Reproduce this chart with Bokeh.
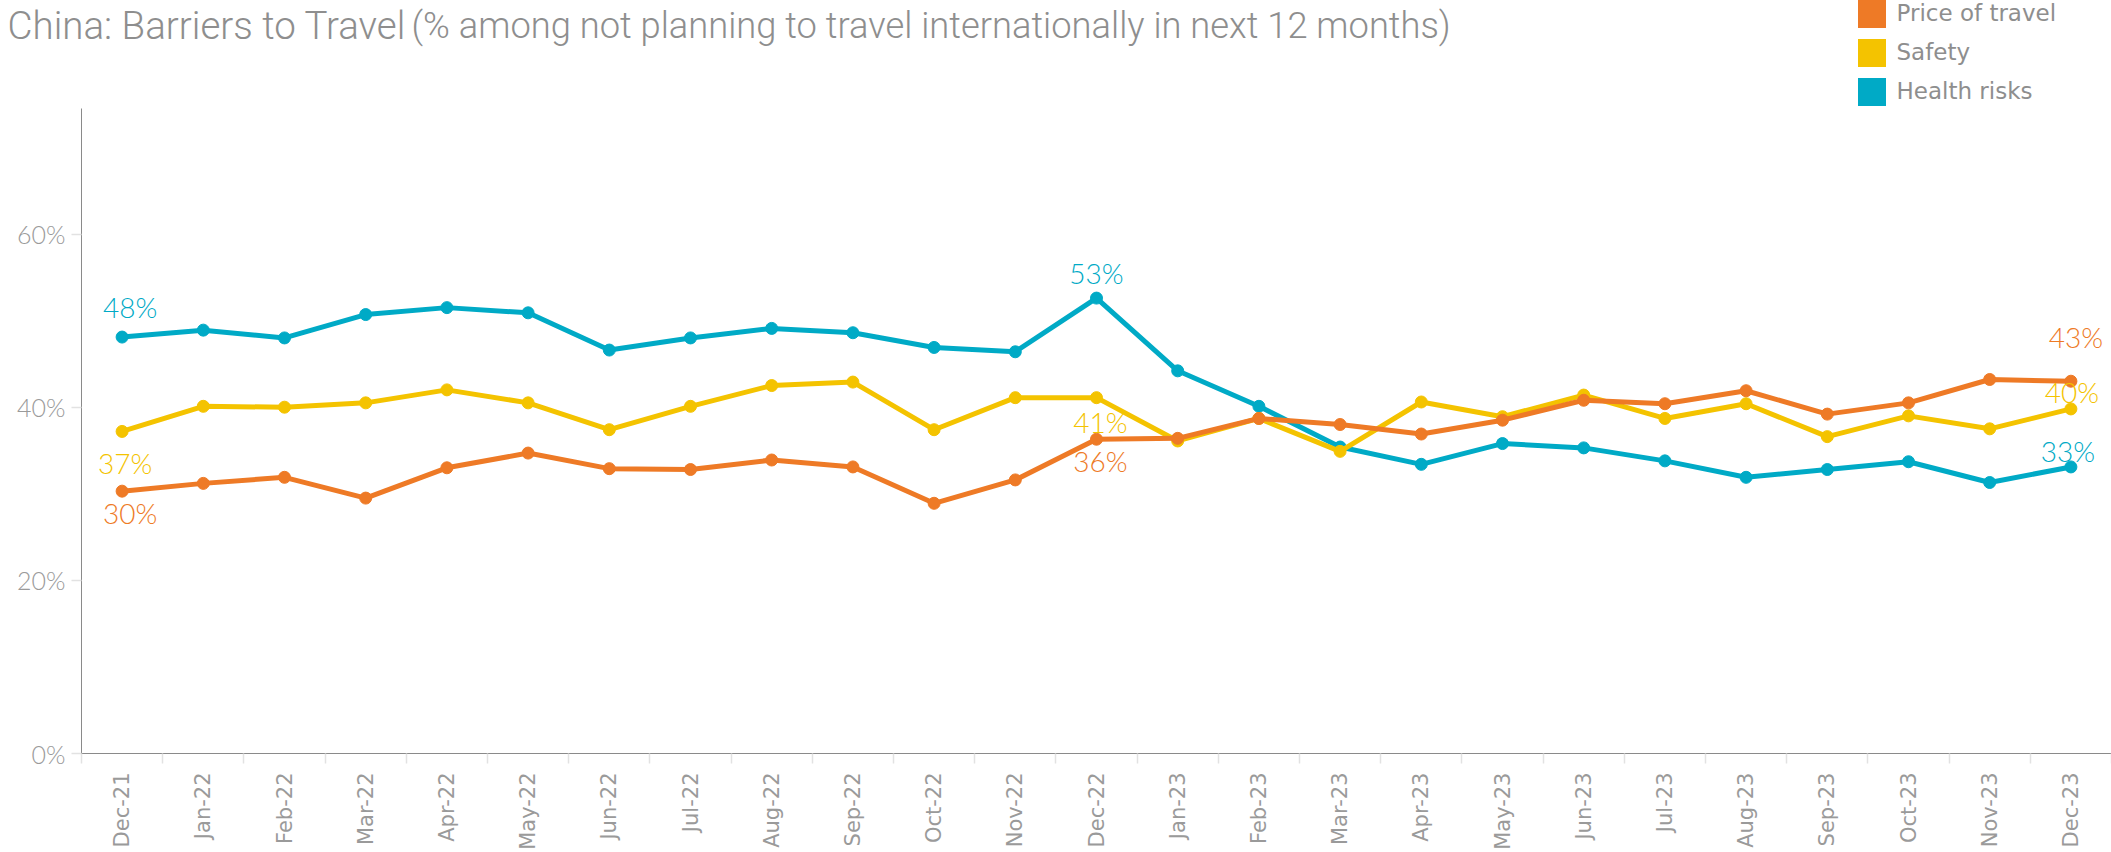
import math
from bokeh.plotting import figure
from bokeh.layouts import column
from bokeh.models import (ColumnDataSource, Range1d, FixedTicker, PrintfTickFormatter,
                          Legend, LegendItem, Label)
from bokeh.core.properties import value
from bokeh.embed import file_html
from bokeh.resources import INLINE

# ---------------- data ----------------
months = ["Dec-21", "Jan-22", "Feb-22", "Mar-22", "Apr-22", "May-22", "Jun-22", "Jul-22",
          "Aug-22", "Sep-22", "Oct-22", "Nov-22", "Dec-22", "Jan-23", "Feb-23", "Mar-23",
          "Apr-23", "May-23", "Jun-23", "Jul-23", "Aug-23", "Sep-23", "Oct-23", "Nov-23", "Dec-23"]
price_of_travel = [30.3, 31.2, 31.9, 29.5, 33.0, 34.7, 32.9, 32.8, 33.9, 33.1, 28.9, 31.6, 36.3,
                   36.4, 38.7, 38.0, 36.9, 38.5, 40.8, 40.4, 41.9, 39.2, 40.5, 43.2, 43.0]
safety = [37.2, 40.1, 40.0, 40.5, 42.0, 40.5, 37.4, 40.1, 42.5, 42.9, 37.4, 41.1, 41.1,
          36.1, 38.7, 34.9, 40.6, 38.9, 41.4, 38.7, 40.4, 36.6, 39.0, 37.5, 39.8]
health_risks = [48.1, 48.9, 48.0, 50.7, 51.5, 50.9, 46.6, 48.0, 49.1, 48.6, 46.9, 46.4, 52.6,
                44.2, 40.1, 35.4, 33.4, 35.8, 35.3, 33.8, 31.9, 32.8, 33.7, 31.3, 33.1]
series_names = ["Price of travel", "Safety", "Health risks"]
y_ticks = [0, 20, 40, 60]
title_text = "China: Barriers to Travel"
subtitle_text = "(% among not planning to travel internationally in next 12 months)"

# ---------------- style ----------------
colors = {"Price of travel": "#EE7A26", "Safety": "#F4C300", "Health risks": "#00AAC6"}
GRAY = "#8e8e8e"
TICK_GRAY = "#9a9a9a"
LIGHT = "#e2e2e2"
TITLE_FONT = "'Roboto Light', Roboto"
NUM_FONT = "'Lato Light', Lato"
W = 2111
HEADER_H = 108
MAIN_H = 852 - HEADER_H

series = {"Price of travel": price_of_travel, "Safety": safety, "Health risks": health_risks}
xs = list(range(len(months)))

# ---------------- header (title + legend) ----------------
header = figure(width=W, height=HEADER_H, output_backend="svg", toolbar_location=None,
                x_range=Range1d(0, W), y_range=Range1d(0, HEADER_H),
                min_border=0, x_axis_type=None, y_axis_type=None)
header.outline_line_color = None
header.grid.visible = False
header.frame_align = False

header.add_layout(Label(x=7, y=83, x_units="screen", y_units="screen",
                        text=title_text, text_font=TITLE_FONT,
                        text_font_size="38.5px", text_color=GRAY, text_baseline="alphabetic"))
header.add_layout(Label(x=411, y=83, x_units="screen", y_units="screen",
                        text=subtitle_text, text_font=TITLE_FONT,
                        text_font_size="36.3px", text_color=GRAY, text_baseline="alphabetic"))

nan = float("nan")
items = []
for name in series_names:
    r = header.quad(left=[nan], right=[nan], top=[nan], bottom=[nan],
                    fill_color=colors[name], line_color=None)
    items.append(LegendItem(label=name, renderers=[r]))
legend = Legend(items=items, location=(1853.5, -0.5), orientation="vertical",
                glyph_width=35, glyph_height=35, label_height=35, spacing=4,
                label_standoff=8, padding=0, margin=0,
                border_line_color=None, background_fill_alpha=0,
                label_text_font="DejaVu Sans", label_text_font_size="23px",
                label_text_color=GRAY, label_text_baseline="middle")
header.add_layout(legend, "center")

# ---------------- main chart ----------------
p = figure(width=W, height=MAIN_H, output_backend="svg", toolbar_location=None,
           x_range=Range1d(-0.5, 24.5), y_range=Range1d(0, 74.5),
           min_border_left=81, min_border_right=0, min_border_top=0, min_border_bottom=92)
p.outline_line_color = None
p.grid.visible = False
p.frame_align = False

# x axis
p.xaxis.ticker = FixedTicker(ticks=xs, minor_ticks=[i - 0.5 for i in range(len(months) + 1)])
p.xaxis.major_label_overrides = {i: m for i, m in enumerate(months)}
p.xaxis.major_label_orientation = math.pi / 2
p.xaxis.major_tick_line_color = None
p.xaxis.major_tick_out = 0
p.xaxis.major_tick_in = 0
p.xaxis.minor_tick_out = 10
p.xaxis.minor_tick_in = 0
p.xaxis.minor_tick_line_color = LIGHT
p.xaxis.minor_tick_line_width = 1.5
p.xaxis.major_label_standoff = 9
p.xaxis.major_label_text_font = "DejaVu Sans"
p.xaxis.major_label_text_font_size = "21px"
p.xaxis.major_label_text_color = TICK_GRAY
p.xaxis.axis_line_color = "#8a8a8a"

# y axis
p.yaxis.ticker = FixedTicker(ticks=y_ticks, minor_ticks=[])
p.yaxis.formatter = PrintfTickFormatter(format="%d%%")
p.yaxis.major_tick_out = 10
p.yaxis.major_tick_in = 0
p.yaxis.major_tick_line_color = LIGHT
p.yaxis.major_tick_line_width = 1.5
p.yaxis.minor_tick_line_color = None
p.yaxis.major_label_standoff = 6
p.yaxis.major_label_text_font = NUM_FONT
p.yaxis.major_label_text_font_size = "25px"
p.yaxis.major_label_text_color = TICK_GRAY
p.yaxis.axis_line_color = "#8a8a8a"

# lines (health bottom, then safety, price on top)
for name in ["Health risks", "Safety", "Price of travel"]:
    src = ColumnDataSource(dict(x=xs, y=series[name]))
    p.line("x", "y", source=src, line_color=colors[name], line_width=5)
    p.scatter("x", "y", source=src, size=12, fill_color=colors[name], line_color=colors[name])

# data labels: (series, month index, dx, dy) - dy positive = down (screen)
label_spec = [("Health risks", 0, 8, -30), ("Safety", 0, 3, 32), ("Price of travel", 0, 8, 22),
              ("Health risks", 12, 0, -25), ("Safety", 12, 4, 24), ("Price of travel", 12, 4, 22),
              ("Price of travel", 24, 5, -44), ("Safety", 24, 1, -17), ("Health risks", 24, -3, -16)]
lab = dict(x=[], y=[], text=[], color=[], dx=[], dy=[])
for name, i, dx, dy in label_spec:
    v = series[name][i]
    lab["x"].append(i)
    lab["y"].append(v)
    lab["text"].append(f"{round(v)}%")
    lab["color"].append(colors[name])
    lab["dx"].append(dx)
    lab["dy"].append(dy)
p.text("x", "y", text="text", source=ColumnDataSource(lab), text_color="color",
       x_offset="dx", y_offset="dy", text_align="center", text_baseline="middle",
       text_font=value(NUM_FONT), text_font_size="28px")

layout = column(header, p, spacing=0)
open("out.html", "w").write(file_html(layout, INLINE))
